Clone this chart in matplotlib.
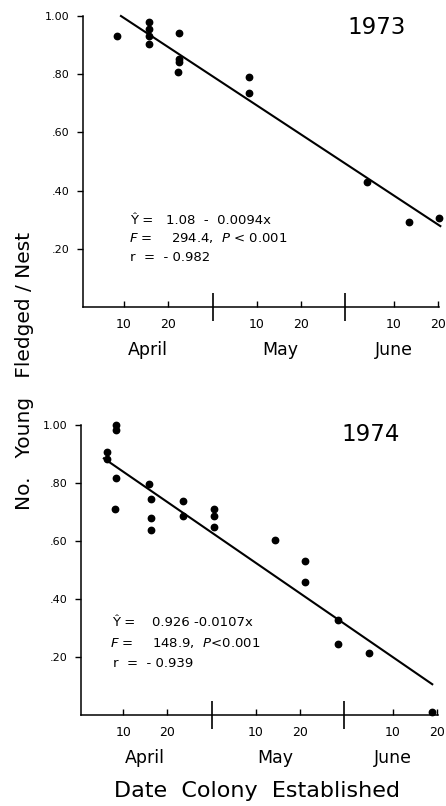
import matplotlib
matplotlib.use('Agg')
import matplotlib.pyplot as plt

plt.rcParams['font.family'] = ['DejaVu Sans']
plt.rcParams['mathtext.fontset'] = 'dejavusans'

# days counted from 31 March (April 10 = 10, May 10 = 40, June 10 = 71)
days_73 = [8.5, 15.6, 15.6, 15.6, 15.6, 22.4, 22.4, 22.4, 22.1, 38.3, 38.3, 64.9, 74.5, 81.2]
young_73 = [0.931, 0.98, 0.955, 0.93, 0.905, 0.94, 0.851, 0.843, 0.808, 0.79, 0.737, 0.429, 0.293, 0.307]
fit_x_73 = [9.3, 81.5]
fit_y_73 = [1.0, 0.278]

days_74 = [6.3, 6.3, 8.35, 8.35, 8.35, 8.05, 15.9, 16.2, 16.2, 16.2, 23.6, 23.6,
           30.5, 30.5, 30.5, 44.4, 51.1, 51.1, 58.6, 58.6, 65.6, 79.9]
young_74 = [0.906, 0.882, 1.0, 0.983, 0.816, 0.71, 0.797, 0.744, 0.679, 0.639, 0.738, 0.688,
            0.712, 0.687, 0.65, 0.604, 0.531, 0.459, 0.33, 0.247, 0.216, 0.01]
fit_x_74 = [5.6, 80.0]
fit_y_74 = [0.885, 0.107]

yticks = [0.2, 0.4, 0.6, 0.8, 1.0]
ylabels = ['.20', '.40', '.60', '.80', '1.00']
day_ticks = [10, 20, 40, 50, 71, 81]
day_labels = ['10', '20', '10', '20', '10', '20']
month_edges = [30, 60]
months = ['April', 'May', 'June']

fig = plt.figure(figsize=(4.46, 8.06), dpi=100)
ax1 = fig.add_axes([83/446, 1-307/806, (439-83)/446, (307-16)/806])
ax2 = fig.add_axes([81/446, 1-715.3/806, (438-81)/446, (715.3-425)/806])

def setup(ax, xlim, month_x):
    ax.set_xlim(*xlim)
    ax.set_ylim(0, 1.0)
    for s in ['top', 'right']:
        ax.spines[s].set_visible(False)
    for s in ['left', 'bottom']:
        ax.spines[s].set_linewidth(1.1)
    ax.set_yticks(yticks)
    ax.set_yticklabels(ylabels, fontsize=8)
    ax.tick_params(axis='y', direction='out', length=4.5, width=1, pad=5)
    ax.set_xticks(day_ticks)
    ax.set_xticklabels(day_labels, fontsize=9)
    ax.set_xticks(month_edges, minor=True)
    ax.tick_params(axis='x', which='major', direction='in', length=4, width=1, pad=8)
    ax.tick_params(axis='x', which='minor', direction='inout', length=20, width=1.2)
    for mx, m in zip(month_x, months):
        ax.text(mx, -0.148, m, transform=ax.get_xaxis_transform(),
                ha='center', va='center', fontsize=12.5)

setup(ax1, (0.72, 81.2), [15.4, 45.3, 70.9])
setup(ax2, (0.42, 81.3), [14.9, 44.4, 71.0])

ax1.plot(fit_x_73, fit_y_73, color='black', lw=1.5, clip_on=False)
ax1.plot(days_73, young_73, 'o', color='black', ms=4.6, clip_on=False)
ax2.plot(fit_x_74, fit_y_74, color='black', lw=1.5, clip_on=False)
ax2.plot(days_74, young_74, 'o', color='black', ms=4.6, clip_on=False)

ax1.text(67.0, 0.959, '1973', ha='center', va='center', fontsize=16.5)
ax2.text(66.0, 0.966, '1974', ha='center', va='center', fontsize=16.5)

fs = 9.5
ax1.text(11.4, 0.298, 'Ŷ =', fontsize=fs, va='center')
ax1.text(19.5, 0.298, '1.08  -  0.0094x', fontsize=fs, va='center')
ax1.text(11.2, 0.236, '$F$ =', fontsize=fs, va='center')
ax1.text(20.6, 0.236, '294.4,  $P$ < 0.001', fontsize=fs, va='center')
ax1.text(11.4, 0.170, 'r  =  - 0.982', fontsize=fs, va='center')

ax2.text(7.44, 0.319, 'Ŷ =', fontsize=fs, va='center')
ax2.text(16.5, 0.319, '0.926 -0.0107x', fontsize=fs, va='center')
ax2.text(7.0, 0.249, '$F$ =', fontsize=fs, va='center')
ax2.text(16.5, 0.249, '148.9,  $P$<0.001', fontsize=fs, va='center')
ax2.text(7.67, 0.180, 'r  =  - 0.939', fontsize=fs, va='center')

fig.text(257/446, 1-791/806, 'Date  Colony  Established', ha='center', va='center', fontsize=16)
fig.text(25/446, 1-371/806, 'No.   Young   Fledged / Nest', ha='center', va='center',
         rotation=90, fontsize=14.5)

fig.savefig('out.png', dpi=100)
